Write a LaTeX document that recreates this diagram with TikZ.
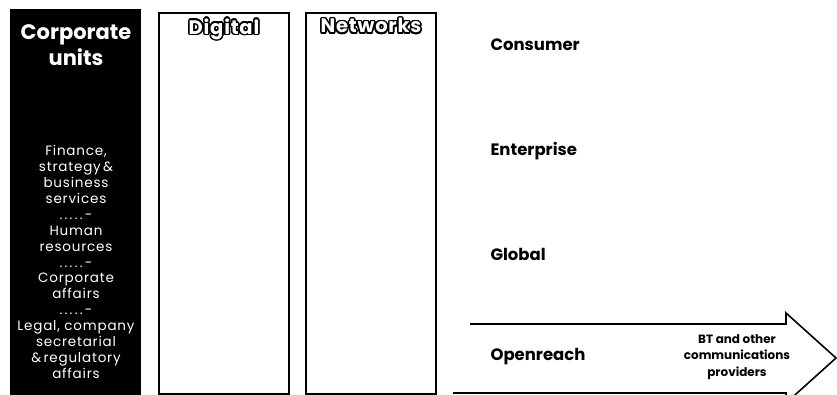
\documentclass[tikz,border=0pt]{standalone}
\usepackage{fontspec}
\setmainfont{Poppins}
\usepackage{contour}
\contourlength{1.5pt}
\contournumber{16}
\usetikzlibrary{positioning}
\tikzstyle{unit} = [text centered, font=\bfseries\fontsize{16.5}{18}\selectfont]
\tikzstyle{colbox} = [draw=black, line width=2pt, minimum width=130pt, minimum height=381pt, anchor=north west]
\tikzstyle{arrow} = [draw=black, line width=1.6pt, line join=miter]

\begin{document}
\begin{tikzpicture}[x=1pt, y=-1pt,
headnode/.style={text centered, font=\bfseries\fontsize{19.5}{21}\selectfont\addfontfeatures{LetterSpace=4}},
smallnode/.style={align=center, font=\fontsize{13.5}{15.9}\selectfont\addfontfeatures{LetterSpace=6}}
]
\useasboundingbox (0,0) rectangle (837,395);
% corporate units column
\node[fill=black, minimum width=131pt, minimum height=392pt, anchor=north west, inner sep=0pt] (CU) at (10,9) {};
\node[text=white, align=center, font=\bfseries\fontsize{21}{26}\selectfont] (CUt) at (76,45) {Corporate\\units};
\node[smallnode, text=white] (CUs) at (76,262) {Finance,\\strategy\,\&\\business\\services\\.\,.\,.\,.\,.\,-\\Human\\resources\\.\,.\,.\,.\,.\,-\\Corporate\\affairs\\.\,.\,.\,.\,.\,-\\Legal, company\\secretarial\\\&\,regulatory\\affairs};
% Digital and Networks
\node[colbox] (Dig) at (158,12) {};
\node[colbox] (Net) at (305,12) {};
\node[headnode] (DigT) [below=3pt of Dig.north] {\contour{black}{\textcolor{white}{Digital}}};
\node[headnode] (NetT) [below=3pt of Net.north] {\contour{black}{\textcolor{white}{Networks}}};
% lines of business
\node[unit, anchor=west] (Con) at (487,45) {Consumer};
\node[unit, anchor=west] (Ent) at (487,151) {Enterprise};
\node[unit, anchor=west] (Glo) at (487,254) {Global};
\node[unit, anchor=west] (Opn) at (487,357) {Openreach};
% wholesale arrow
\draw[arrow] (470,324) -- (786,324) -- (786,313) -- (836,358) -- (786,403) -- (786,393) -- (453,393);
\node[align=center, font=\bfseries\fontsize{12}{16.5}\selectfont] (BT) at (737,357) {BT and other\\communications\\providers};
\end{tikzpicture}
\end{document}
